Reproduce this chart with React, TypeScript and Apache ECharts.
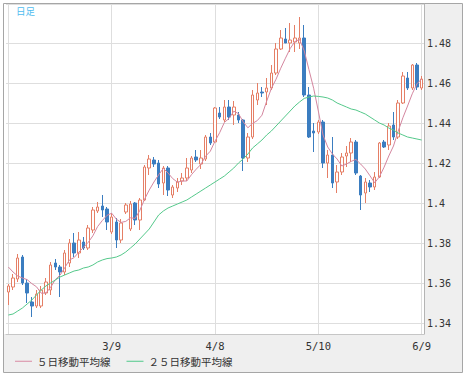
import React, { useEffect, useRef } from "react";
import * as echarts from "echarts";

const dates = [
  "2/5", "2/8", "2/9", "2/10", "2/11", "2/12", "2/15", "2/16", "2/17", "2/18",
  "2/19", "2/22", "2/23", "2/24", "2/25", "2/26", "3/1", "3/2", "3/3", "3/4",
  "3/5", "3/8", "3/9", "3/10", "3/11", "3/12", "3/15", "3/16", "3/17", "3/18",
  "3/19", "3/22", "3/23", "3/24", "3/25", "3/26", "3/29", "3/30", "3/31", "4/1",
  "4/2", "4/5", "4/6", "4/7", "4/8", "4/9", "4/12", "4/13", "4/14", "4/15",
  "4/16", "4/19", "4/20", "4/21", "4/22", "4/23", "4/26", "4/27", "4/28", "4/29",
  "4/30", "5/3", "5/4", "5/5", "5/6", "5/7", "5/10", "5/11", "5/12", "5/13",
  "5/14", "5/17", "5/18", "5/19", "5/20", "5/21", "5/24", "5/25", "5/26", "5/27",
  "5/28", "5/31", "6/1", "6/2", "6/3", "6/4", "6/7", "6/8", "6/9",
];

const opens = [
  1.3555, 1.358, 1.362, 1.373, 1.36, 1.3505, 1.3485, 1.3485, 1.355, 1.3565,
  1.37, 1.368, 1.3655, 1.37, 1.38, 1.375, 1.3805, 1.3775, 1.3865, 1.396,
  1.3985, 1.397, 1.3855, 1.3905, 1.3815, 1.3955, 1.387, 1.4, 1.3915, 1.4015,
  1.4175, 1.4215, 1.42, 1.41, 1.4175, 1.404, 1.4075, 1.411, 1.4125, 1.4165,
  1.423, 1.4195, 1.422, 1.433, 1.4305, 1.445, 1.4415, 1.448, 1.444, 1.444,
  1.4415, 1.4225, 1.433, 1.4515, 1.4555, 1.4555, 1.4575, 1.465, 1.477, 1.482,
  1.48, 1.4805, 1.48, 1.4825, 1.454, 1.436, 1.4355, 1.4405, 1.42, 1.424,
  1.4105, 1.4155, 1.4235, 1.425, 1.4305, 1.4135, 1.405, 1.41, 1.408, 1.413,
  1.4305, 1.429, 1.439, 1.433, 1.45, 1.4625, 1.4575, 1.469, 1.4575,
];

const closes = [
  1.3585, 1.3625, 1.3725, 1.36, 1.355, 1.3485, 1.3545, 1.3565, 1.3605, 1.369,
  1.368, 1.3655, 1.375, 1.38, 1.375, 1.3815, 1.3775, 1.3875, 1.3965, 1.398,
  1.3965, 1.3905, 1.393, 1.3815, 1.39, 1.399, 1.3995, 1.3915, 1.4015, 1.418,
  1.422, 1.4195, 1.4095, 1.4175, 1.4065, 1.408, 1.4105, 1.4125, 1.4175, 1.4225,
  1.4215, 1.4225, 1.433, 1.43, 1.4475, 1.443, 1.448, 1.443, 1.448, 1.4415,
  1.4225, 1.433, 1.454, 1.455, 1.455, 1.4575, 1.465, 1.477, 1.4825, 1.48,
  1.4815, 1.4825, 1.4825, 1.454, 1.433, 1.435, 1.4405, 1.42, 1.424, 1.41,
  1.4155, 1.423, 1.425, 1.4305, 1.415, 1.404, 1.4105, 1.408, 1.413, 1.43,
  1.428, 1.4385, 1.433, 1.45, 1.4635, 1.4575, 1.469, 1.458, 1.462,
];

const lows = [
  1.349, 1.3565, 1.3605, 1.359, 1.35, 1.343, 1.3475, 1.3475, 1.354, 1.354,
  1.3665, 1.353, 1.364, 1.368, 1.373, 1.3725, 1.3765, 1.3765, 1.385, 1.395,
  1.393, 1.3865, 1.3845, 1.3775, 1.38, 1.3945, 1.386, 1.389, 1.3865, 1.401,
  1.414, 1.418, 1.4075, 1.404, 1.4035, 1.4025, 1.4055, 1.409, 1.411, 1.415,
  1.4205, 1.417, 1.421, 1.429, 1.43, 1.442, 1.4405, 1.4415, 1.439, 1.44,
  1.416, 1.4205, 1.432, 1.449, 1.453, 1.449, 1.4565, 1.464, 1.4765, 1.48,
  1.4755, 1.4755, 1.477, 1.453, 1.4325, 1.4255, 1.4345, 1.4175, 1.4125, 1.4075,
  1.405, 1.414, 1.418, 1.4205, 1.414, 1.3965, 1.4, 1.4055, 1.4065, 1.4125,
  1.4275, 1.4265, 1.4315, 1.432, 1.4495, 1.4565, 1.4565, 1.4565, 1.4565,
];

const highs = [
  1.3595, 1.3645, 1.3745, 1.374, 1.362, 1.353, 1.3565, 1.3585, 1.3625, 1.3705,
  1.372, 1.369, 1.3765, 1.382, 1.385, 1.3855, 1.383, 1.389, 1.398, 1.4005,
  1.404, 1.398, 1.395, 1.3925, 1.392, 1.4, 1.401, 1.4005, 1.4025, 1.419,
  1.424, 1.423, 1.4215, 1.4185, 1.4185, 1.409, 1.4125, 1.415, 1.4225, 1.4235,
  1.4265, 1.4265, 1.434, 1.435, 1.448, 1.448, 1.4515, 1.4515, 1.451, 1.4455,
  1.442, 1.435, 1.4565, 1.46, 1.458, 1.4625, 1.469, 1.48, 1.4865, 1.4875,
  1.49, 1.489, 1.493, 1.489, 1.458, 1.44, 1.4415, 1.4415, 1.4265, 1.433,
  1.419, 1.425, 1.4285, 1.4325, 1.4315, 1.414, 1.4125, 1.4115, 1.4155, 1.4305,
  1.4315, 1.44, 1.4455, 1.4515, 1.4655, 1.4655, 1.4695, 1.47, 1.4635,
];

const ma5 = [
  1.368, 1.3655, 1.3635, 1.3625, 1.3617, 1.3597, 1.3581, 1.3549, 1.355, 1.3578,
  1.3617, 1.3639, 1.3676, 1.3715, 1.3727, 1.3754, 1.3778, 1.3803, 1.3836, 1.3882,
  1.3912, 1.3938, 1.3949, 1.3919, 1.3903, 1.3908, 1.3926, 1.3923, 1.3963, 1.4019,
  1.4065, 1.4105, 1.4141, 1.4173, 1.415, 1.4122, 1.4104, 1.411, 1.411, 1.4142,
  1.4169, 1.4193, 1.4234, 1.4259, 1.4309, 1.4352, 1.4403, 1.4423, 1.4459, 1.4447,
  1.4406, 1.4376, 1.4398, 1.4412, 1.4439, 1.4509, 1.4573, 1.4619, 1.4674, 1.4724,
  1.4772, 1.4807, 1.4818, 1.4761, 1.4667, 1.4574, 1.446, 1.434, 1.428, 1.4245,
  1.422, 1.4185, 1.4195, 1.4208, 1.4218, 1.4195, 1.417, 1.4136, 1.4101, 1.4131,
  1.4179, 1.4235, 1.4285, 1.4359, 1.4426, 1.4485, 1.4546, 1.4596, 1.462,
];

const ma25 = [
  1.344, 1.3445, 1.346, 1.3475, 1.3495, 1.3515, 1.354, 1.3565, 1.3585, 1.36,
  1.3615, 1.363, 1.364, 1.365, 1.366, 1.3665, 1.3675, 1.368, 1.369, 1.3705,
  1.3715, 1.3722, 1.3725, 1.373, 1.374, 1.3755, 1.3775, 1.3795, 1.382, 1.3845,
  1.387, 1.3905, 1.394, 1.396, 1.3975, 1.3985, 1.3995, 1.4005, 1.4015, 1.403,
  1.4045, 1.406, 1.4075, 1.409, 1.4105, 1.412, 1.4135, 1.4155, 1.4175, 1.42,
  1.422, 1.4245, 1.4275, 1.4295, 1.4315, 1.434, 1.436, 1.4385, 1.441, 1.4435,
  1.446, 1.4485, 1.4505, 1.4523, 1.453, 1.4535, 1.4533, 1.453, 1.4525, 1.4515,
  1.45, 1.449, 1.448, 1.447, 1.4465, 1.4455, 1.4445, 1.443, 1.4415, 1.44,
  1.439, 1.4375, 1.4365, 1.435, 1.434, 1.433, 1.4325, 1.432, 1.4315,
];

const xLabelDates = ["3/9", "4/8", "5/10", "6/9"];
const gridDates = ["2/5", "3/9", "4/8", "5/10", "6/9"];
const seriesNames = ["５日移動平均線", "２５日移動平均線"];
const titleText = "日足";

export default function App() {
  const ref = useRef<HTMLDivElement>(null);

  useEffect(() => {
    if (!ref.current) return;
    const chart = echarts.init(ref.current, null, { renderer: "svg" });
    const candles = dates.map((_, i) => [opens[i], closes[i], lows[i], highs[i]]);
    chart.setOption({
      animation: false,
      graphic: [
        {
          type: "rect",
          z: -10,
          silent: true,
          shape: { x: 3.5, y: 3.5, width: 459, height: 369 },
          style: { fill: "#efefef", stroke: "#a6a6a6", lineWidth: 1 },
        },
        {
          type: "rect",
          z: -9,
          silent: true,
          shape: { x: 4, y: 4, width: 420, height: 330 },
          style: { fill: "#ffffff" },
        },
      ],
      title: {
        text: titleText,
        left: 16,
        top: 6,
        padding: 0,
        textStyle: {
          fontSize: 9.5,
          fontWeight: "normal",
          color: "#4fbcef",
          fontFamily: "Noto Sans CJK JP",
        },
      },
      legend: {
        data: seriesNames,
        left: 15,
        top: 356,
        padding: 0,
        icon: "rect",
        itemWidth: 17,
        itemHeight: 1,
        itemGap: 16,
        selectedMode: false,
        textStyle: {
          fontSize: 10.5,
          color: "#333",
          fontFamily: "Noto Sans CJK JP",
        },
      },
      grid: { left: 6, right: 43, top: 4, bottom: 44 },
      xAxis: {
        type: "category",
        data: dates,
        boundaryGap: true,
        axisLine: { show: true, lineStyle: { color: "#c6c6c6", width: 1 } },
        axisTick: { show: false },
        axisLabel: {
          interval: (_i: number, v: string) => xLabelDates.includes(v),
          margin: 6,
          fontSize: 10.5,
          color: "#333",
          fontFamily: "DejaVu Sans Mono",
        },
        splitLine: {
          show: true,
          interval: (_i: number, v: string) => gridDates.includes(v),
          alignWithLabel: true,
          lineStyle: { color: "#dedede", width: 1 },
        },
      },
      yAxis: {
        type: "value",
        position: "right",
        min: 1.3345,
        max: 1.4995,
        splitNumber: 8,
        axisLine: { show: true, lineStyle: { color: "#b4b4b4", width: 1 } },
        axisTick: { show: false },
        axisLabel: {
          showMinLabel: false,
          showMaxLabel: false,
          margin: 3,
          fontSize: 10,
          color: "#333",
          fontFamily: "DejaVu Sans Mono",
        },
        splitLine: { show: true, lineStyle: { color: "#dedede", width: 1 } },
      },
      series: [
        {
          type: "candlestick",
          data: candles,
          barWidth: 3,
          itemStyle: {
            color: "#ffffff",
            color0: "#3b7dc0",
            borderColor: "#e57f66",
            borderColor0: "#3b7dc0",
            borderWidth: 1,
          },
        },
        {
          name: seriesNames[0],
          type: "line",
          data: ma5,
          symbol: "none",
          itemStyle: { color: "#d98aa3" },
          lineStyle: { color: "#d4869f", width: 1 },
        },
        {
          name: seriesNames[1],
          type: "line",
          data: ma25,
          symbol: "none",
          itemStyle: { color: "#4fc98a" },
          lineStyle: { color: "#55c98b", width: 1 },
        },
      ],
    });
    return () => chart.dispose();
  }, []);

  return (
    <div style={{ position: "fixed", left: 0, top: 0, width: 467, height: 378, background: "#fff" }}>
      <div ref={ref} style={{ width: 467, height: 378 }} />
    </div>
  );
}
